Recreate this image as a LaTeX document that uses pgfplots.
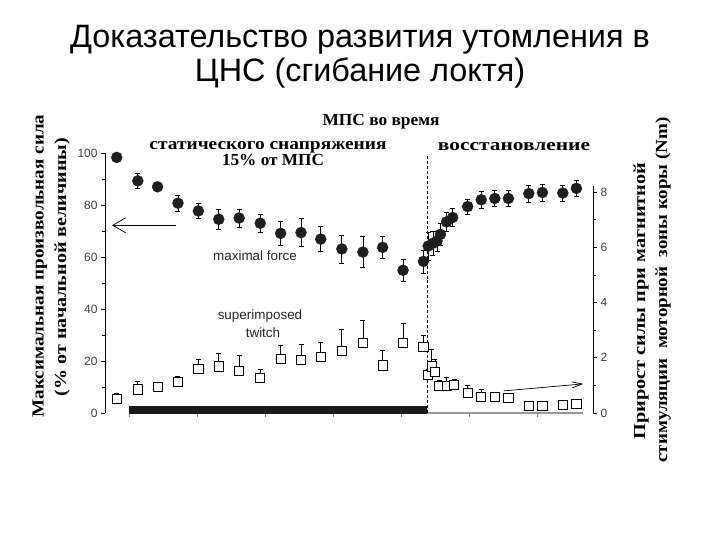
\documentclass[border=0pt]{standalone}
\usepackage{fontspec}
\setmainfont{Liberation Sans}
\newfontfamily\tnr{Liberation Serif}
\usepackage{graphicx}
\usepackage{pgfplots}
\pgfplotsset{compat=1.18}
\usepackage{pgfplotstable}
\usetikzlibrary{arrows.meta}
\newcommand\sw[2]{\resizebox{#1}{\height}{\tnr\bfseries\fontsize{17}{17}\selectfont #2}}

\pgfplotstableread{
x y e
-1.8 98.3 0
1.3 89.3 3.0
4.2 87.0 1.5
7.2 80.7 3.2
10.2 77.7 2.9
13.2 74.5 4.0
16.2 75.0 3.5
19.3 73.0 3.5
22.3 69.1 4.5
25.3 69.4 5.4
28.2 66.9 4.9
31.3 63.1 5.4
34.4 61.9 6.0
37.3 63.7 4.2
40.3 54.9 4.3
43.3 58.3 4.4
44.0 64.2 5.4
44.7 65.3 4.5
45.3 66.1 3.9
45.8 68.7 4.1
46.7 73.5 3.5
47.6 75.2 3.6
49.8 79.4 2.9
51.8 82.0 3.3
53.8 82.5 3.0
55.8 82.5 3.1
58.8 84.4 3.2
60.8 84.8 3.3
63.8 84.6 3.1
65.8 86.4 3.0
}\forcedata

\pgfplotstableread{
x y e
-1.8 5.4 2.2
1.3 9.1 3.2
4.2 9.9 1.8
7.2 12.1 1.9
10.2 16.9 3.6
13.2 17.9 4.9
16.2 16.3 5.7
19.3 13.4 3.5
22.3 20.7 5.3
25.3 20.5 6.0
28.2 21.7 5.5
31.3 23.9 8.1
34.4 26.9 8.6
37.3 18.3 5.7
40.3 26.9 7.7
43.3 25.4 4.6
44.0 14.7 2.0
44.5 17.9 6.7
45.0 15.9 4.8
45.6 10.5 2.0
46.7 10.4 3.3
47.8 10.8 2.0
49.8 7.6 3.2
51.8 6.3 2.8
53.8 6.3 1.5
55.8 5.7 1.0
58.8 2.7 1.0
60.8 2.7 1.0
63.8 3.1 1.8
65.8 3.4 1.5
}\twitchdata

\begin{document}
\begin{tikzpicture}
\path[use as bounding box] (0,0) rectangle (720bp,540bp);
\begin{axis}[
  at={(105bp,127bp)}, anchor=south west,
  scale only axis, width=488bp, height=260bp,
  xmin=-3.53, xmax=68.24, ymin=0, ymax=100,
  axis y line*=left, axis x line*=bottom,
  x axis line style={draw=none},
  xtick={0,10,...,60}, xticklabels={},
  xtick style={black!50, line width=0.6bp},
  ytick={0,20,...,100}, minor ytick={10,30,50,70,90},
  tick align=outside,
  major tick length=4bp, minor tick length=3bp,
  y axis line style={black, line width=0.6bp},
  ytick style={black, line width=0.6bp},
  minor tick style={black, line width=0.6bp},
  yticklabel style={font=\fontsize{12}{12}\selectfont, text=black!75},
  /pgf/number format/assume math mode=true,
  clip=false,
]
\addplot[black!90, line width=8bp, forget plot] coordinates {(0,1.16) (43.8,1.16)};
\addplot[black!40, line width=1.8bp, forget plot] coordinates {(43.8,0) (66.8,0)};
\addplot[black, densely dashed, line width=0.6bp, forget plot] coordinates {(43.8,0) (43.8,99.6)};

\addplot[draw=none, mark=none, forget plot,
  error bars/.cd, y dir=both, y explicit,
  error bar style={draw=black, line width=0.7bp},
  error mark options={rotate=90, mark size=2.5bp, draw=black, line width=0.7bp}]
  table[x=x, y=y, y error=e]{\forcedata};
\addplot[only marks, mark=*, mark size=5.5bp, mark options={fill=black!88, draw=black!88}]
  table[x=x, y=y]{\forcedata};

\addplot[draw=none, mark=none, forget plot,
  error bars/.cd, y dir=plus, y explicit,
  error bar style={draw=black, line width=0.7bp},
  error mark options={rotate=90, mark size=2.5bp, draw=black, line width=0.7bp}]
  table[x=x, y=y, y error=e]{\twitchdata};
\addplot[only marks, mark=square*, mark size=4.6bp, mark options={fill=white, draw=black, line width=0.8bp}]
  table[x=x, y=y]{\twitchdata};

\addplot[-{Straight Barb[length=13bp,width=15bp]}, line width=0.7bp] coordinates {(6.9,72.2) (-2.5,72.2)};
\addplot[-{Straight Barb[length=10bp,width=6bp]}, line width=0.7bp] coordinates {(55.1,8.5) (66.8,11.2)};
\end{axis}

\begin{axis}[
  at={(105bp,127bp)}, anchor=south west,
  scale only axis, width=488bp, height=227bp,
  xmin=0, xmax=1, ymin=0, ymax=8.22,
  axis y line*=right, axis x line=none,
  ytick={0,2,...,8}, minor ytick={1,3,5,7},
  tick align=outside,
  major tick length=4bp, minor tick length=3bp,
  y axis line style={black, line width=0.6bp},
  ytick style={black, line width=0.6bp},
  minor tick style={black, line width=0.6bp},
  yticklabel style={font=\fontsize{12}{12}\selectfont, text=black!75},
  /pgf/number format/assume math mode=true,
]
\addplot[draw=none] coordinates {(0,0)};
\end{axis}

\node[align=center, font=\fontsize{32.5}{34}\selectfont] at (360bp,483bp) {Доказательство развития утомления в\\ЦНС (сгибание локтя)};

\node[rotate=90, inner sep=0pt] at (40bp,274bp) {\sw{303bp}{Максимальная произвольная сила}};
\node[rotate=90, inner sep=0pt] at (62bp,273bp) {\sw{258bp}{(\% от начальной величины)}};

\node[rotate=90, inner sep=0pt] at (641bp,239bp) {\sw{277bp}{Прирост силы при магнитной}};
\node[rotate=90, inner sep=0pt] at (663bp,250bp) {\sw{345bp}{стимуляции\ \ моторной\ \ зоны коры (Nm)}};

\node[inner sep=0pt] at (381bp,418bp) {\sw{117bp}{МПС во время}};
\node[inner sep=0pt] at (268bp,393bp) {\sw{237bp}{статического снапряжения}};
\node[inner sep=0pt] at (273bp,380bp) {\sw{102bp}{15\% от МПС}};
\node[inner sep=0pt] at (514bp,393bp) {\sw{152bp}{восстановление}};

\node[font=\fontsize{13.5}{14}\selectfont, text=black!85] at (255bp,284bp) {maximal force};
\node[font=\fontsize{13.5}{14}\selectfont, text=black!85] at (260bp,224bp) {superimposed};
\node[font=\fontsize{13.5}{14}\selectfont, text=black!85] at (263bp,207bp) {twitch};
\end{tikzpicture}
\end{document}
